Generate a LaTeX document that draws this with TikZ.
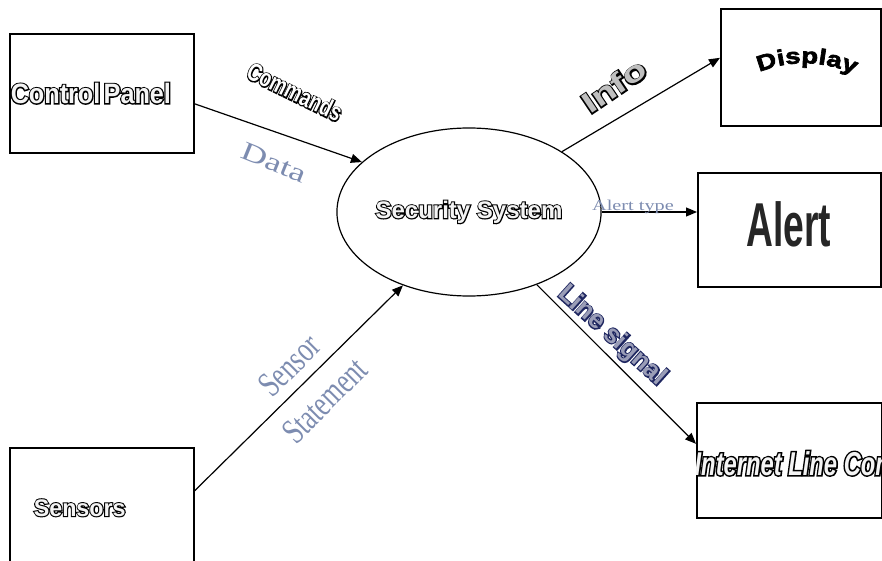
\documentclass[tikz,border=0pt]{standalone}
\usepackage{fontspec}
\setmainfont{Liberation Serif}
\newfontfamily\hv{Liberation Sans}
\usetikzlibrary{arrows.meta,shapes.geometric,decorations.text}
\definecolor{gb}{HTML}{7D8CB0}
\definecolor{navy}{HTML}{1E2660}
\definecolor{fillw}{HTML}{F4F4F4}
% outlined bold sans text: [outline colour]{size}{stretch}{inner colour}{text}
\newcommand\olt[5][black]{{\hv\bfseries\fontsize{#2}{#2}\selectfont\addfontfeatures{FakeStretch=#3}%
\rlap{\addfontfeatures{FakeBold=9}\color{#1}#5}\textcolor{#4}{#5}}}
\begin{document}
\begin{tikzpicture}[x=1pt,y=-1pt,
  box/.style={draw,line width=1.6pt,inner sep=0pt},
  flow/.style={line width=1.2pt,-{Triangle[length=11pt,width=9pt]}}]
\useasboundingbox (0,0) rectangle (882,561);
% boxes
\node[box,minimum width=184pt,minimum height=119pt,text width=182pt,align=left,inner xsep=1pt,anchor=north west]
  (cp) at (9,33) {\olt{28}{0.9}{fillw}{Control Panel}};
\node[box,minimum width=184pt,minimum height=120pt,text width=136pt,align=left,inner xsep=24pt,anchor=north west]
  (sn) at (9,447) {\olt{24}{0.97}{fillw}{Sensors}};
\node[box,minimum width=160pt,minimum height=117pt,anchor=north west] (dp) at (720,8) {};
\node[box,minimum width=183pt,minimum height=114pt,anchor=north west] (al) at (697,172) {};
\node (altx) at (789,224)
  {\hv\bfseries\fontsize{62}{62}\selectfont\addfontfeatures{FakeStretch=0.6}\color{black!85}Alert};
\node[box,minimum width=185pt,minimum height=115pt,anchor=north west] (inet) at (696,402) {};
\begin{scope}
\clip (inet.south west) rectangle (inet.north east);
\node (inettx) at ([xshift=3pt,yshift=-3pt]inet.center) {\itshape\olt{33}{0.72}{fillw}{Internet Line Con}};
\end{scope}
% Display arched text
\path[decorate,decoration={text along path,text align=center,
  text={|\hv\bfseries\fontsize{22}{22}\selectfont\addfontfeatures{FakeStretch=1.25,FakeBold=3}|Display}}]
  (748,78) .. controls (782,58) and (827,58) .. (866,80);
% process
\node[draw,ellipse,line width=1.2pt,minimum width=228pt,minimum height=168pt,inner sep=0pt]
  (ss) at (469,212) {\olt{24}{1}{fillw}{Security System}};
% flows
\draw[flow] ([yshift=-10.5pt]cp.east) -- (ss.155);
\draw[flow] ([yshift=17pt]sn.east) -- (ss.228);
\draw[flow] (ss.33) -- ([yshift=9.5pt]dp.west);
\draw[flow] (ss.east) -- (ss.east -| al.west);
\draw[flow] (ss.-47) -- ([yshift=16.5pt]inet.west);
% labels
\node[rotate=-26] (lcmd) at (295,92) {\olt{25}{0.75}{white}{Commands}};
\node[rotate=-22,text=gb] (ldata) at (274,163) {\fontsize{26}{26}\selectfont\addfontfeatures{FakeStretch=1.4}Data};
\node[rotate=34] (linfo) at (614,86) {\olt{29}{1.35}{black!25}{Info}};
\node[text=gb] (latype) at (633,207) {\fontsize{15}{15}\selectfont\addfontfeatures{FakeStretch=1.35}Alert type};
\node[rotate=-42] (lls) at (612,336) {\olt[navy]{26}{1}{white!55!navy}{Line signal}};
\node[rotate=45,text=gb,align=center,
  font={\fontsize{36}{50}\selectfont\addfontfeatures{FakeStretch=0.72}}] (lsen) at (307,383)
  {Sensor\\Statement};
\end{tikzpicture}
\end{document}
